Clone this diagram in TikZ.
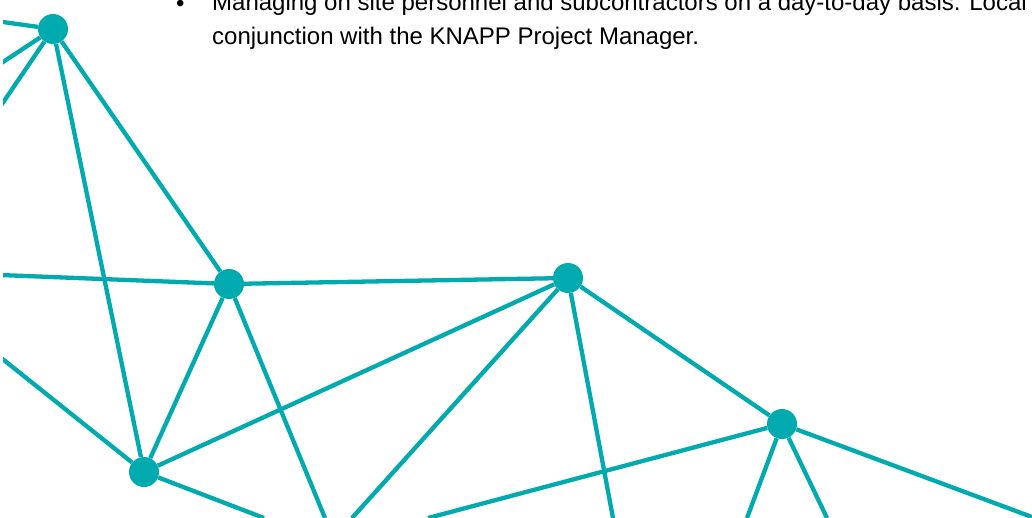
\documentclass[tikz,border=0pt]{standalone}
\usepackage{fontspec}
\setmainfont{Liberation Sans}
\usepackage{xcolor}
\usepackage{tikz}
\usetikzlibrary{shapes,arrows}
\usetikzlibrary{positioning}
\definecolor{teal}{RGB}{0,170,174}
\tikzstyle{dot} = [circle, fill=teal, draw=none, inner sep=0pt, minimum size=30pt]
\tikzstyle{link} = [draw=teal, line width=4.3pt, -]
\tikzstyle{bodytext} = [anchor=base west, inner sep=0pt, font=\fontsize{24}{32}\selectfont]
\begin{document}
\begin{tikzpicture}[x=1pt, y=-1pt]
  \useasboundingbox (0,0) rectangle (1032,518);
  \clip (3,0) rectangle (1032,518);
  % Place text
  \node [bodytext] (bullet) at (176,12) {•};
  \node [bodytext] (duty1) at (212,11) {Managing on site personnel and subcontractors on a day-to-day basis. Local};
  \node [bodytext] (duty2) at (212,45) {conjunction with the KNAPP Project Manager.};
  % Place nodes
  \node [dot] (a) at (53,29) {};
  \node [dot] (b) at (229,284) {};
  \node [dot] (c) at (568,278) {};
  \node [dot] (d) at (144,472) {};
  \node [dot] (e) at (782,424) {};
  % Loose ends
  \coordinate (a1) at (0,21.6);
  \coordinate (a2) at (0,64);
  \coordinate (a3) at (0,107);
  \coordinate (b1) at (0,275);
  \coordinate (b2) at (325,518);
  \coordinate (c1) at (352,518);
  \coordinate (c2) at (613,518);
  \coordinate (d1) at (0,357);
  \coordinate (d2) at (264,518);
  \coordinate (e1) at (428,518);
  \coordinate (e2) at (747,518);
  \coordinate (e3) at (827,518);
  \coordinate (e4) at (1032,517);
  % Draw edges
  \path [link] (a) -- (a1);
  \path [link] (a) -- (a2);
  \path [link] (a) -- (a3);
  \path [link] (a) -- (b);
  \path [link] (a) -- (d);
  \path [link] (b) -- (b1);
  \path [link] (b) -- (c);
  \path [link] (b) -- (d);
  \path [link] (b) -- (b2);
  \path [link] (c) -- (d);
  \path [link] (c) -- (c1);
  \path [link] (c) -- (c2);
  \path [link] (c) -- (e);
  \path [link] (d) -- (d1);
  \path [link] (d) -- (d2);
  \path [link] (e) -- (e1);
  \path [link] (e) -- (e2);
  \path [link] (e) -- (e3);
  \path [link] (e) -- (e4);
\end{tikzpicture}
\end{document}
